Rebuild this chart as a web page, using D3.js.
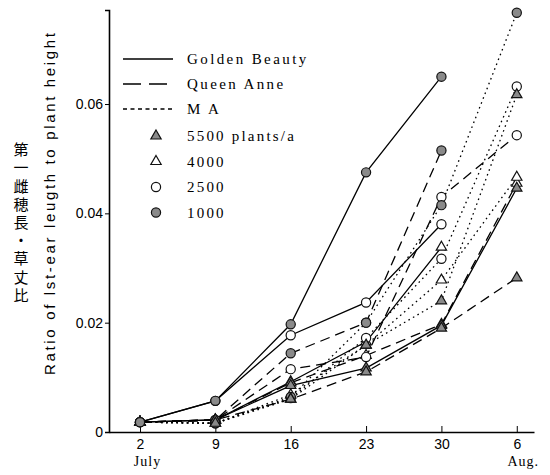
<!DOCTYPE html>
<html><head><meta charset="utf-8">
<script src="https://cdn.jsdelivr.net/npm/d3@7"></script>
<style>body{margin:0;background:#fff}</style>
</head><body>
<svg id="c" width="550" height="475"></svg>
<script>
// ---- data ----
const dateLabels = ["2","9","16","23","30","6"];
const days = [0,7,14,21,28,35];
const monthLabels = [{label:"July", day:0.7},{label:"Aug.", day:35.6}];
const yTicks = [0,0.02,0.04,0.06];
const varieties = ["Golden Beauty","Queen Anne","M A"];
const densities = ["5500","4000","2500","1000"];
const densityLegend = ["5500 plants/a","4000","2500","1000"];
const yTitle = "Ratio of lst-ear leugth to plant height";
const jpTitle = "第一雌穂長・草丈比";

const gb1000 = [0.0018,0.0057,0.0197,0.0475,0.0650,null];
const gb2500 = [0.0018,0.0057,0.0177,0.0237,0.0380,null];
const gb4000 = [0.0018,0.0022,0.0092,0.0165,0.0338,null];
const gb5500 = [0.0018,0.0022,0.0085,0.0117,0.0195,0.0446];
const qa1000 = [0.0018,0.0022,0.0144,0.0200,0.0515,null];
const qa2500 = [0.0018,0.0022,0.0115,0.0137,0.0430,0.0543];
const qa4000 = [0.0018,0.0022,0.0090,0.0140,0.0197,0.0455];
const qa5500 = [0.0018,0.0022,0.0060,0.0110,0.0190,0.0282];
const ma1000 = [0.0018,0.0016,0.0064,0.0200,0.0415,0.0767];
const ma2500 = [0.0018,0.0016,0.0062,0.0172,0.0317,0.0632];
const ma4000 = [0.0018,0.0016,0.0068,0.0159,0.0278,0.0466];
const ma5500 = [0.0018,0.0016,0.0060,0.0159,0.0240,0.0617];

const series = [
  {v:"Golden Beauty", d:"1000", vals:gb1000},
  {v:"Golden Beauty", d:"2500", vals:gb2500},
  {v:"Golden Beauty", d:"4000", vals:gb4000},
  {v:"Golden Beauty", d:"5500", vals:gb5500},
  {v:"Queen Anne", d:"1000", vals:qa1000},
  {v:"Queen Anne", d:"2500", vals:qa2500},
  {v:"Queen Anne", d:"4000", vals:qa4000},
  {v:"Queen Anne", d:"5500", vals:qa5500},
  {v:"M A", d:"1000", vals:ma1000},
  {v:"M A", d:"2500", vals:ma2500},
  {v:"M A", d:"4000", vals:ma4000},
  {v:"M A", d:"5500", vals:ma5500}
];

// ---- styles ----
const dash = {"Golden Beauty":null, "Queen Anne":"10,6", "M A":"1.6,3.6"};
const legendDash = {"Golden Beauty":null, "Queen Anne":"18,8", "M A":"4,3.5"};
const GRAY = "#8a8a8a";

const svg = d3.select("#c");
const x = d3.scaleLinear().domain([-2.88, 36.6]).range([109, 534]);
const y = d3.scaleLinear().domain([0, 0.0772]).range([432, 10]);

// axes
const yAxis = d3.axisLeft(y).tickValues(yTicks).tickSize(4).tickPadding(2)
  .tickFormat(d => d === 0 ? "0" : d3.format(".2f")(d));
const gy = svg.append("g").attr("transform","translate(109,0)").call(yAxis);
gy.select(".domain").attr("stroke-width",1.6);
gy.selectAll("text").attr("font-family","Liberation Sans, Arial, sans-serif").attr("font-size",14).attr("fill","#000");

const xAxis = d3.axisBottom(x).tickValues(days).tickSizeInner(-6).tickSizeOuter(0).tickPadding(7)
  .tickFormat((d,i) => dateLabels[i]);
const gx = svg.append("g").attr("transform","translate(0,432)").call(xAxis);
gx.select(".domain").attr("stroke-width",1.6);
gx.selectAll("text").attr("font-family","Liberation Sans, Arial, sans-serif").attr("font-size",14).attr("fill","#000");

svg.append("g").selectAll("text").data(monthLabels).join("text")
  .attr("x", d => x(d.day)).attr("y", 466).attr("text-anchor","middle")
  .attr("font-family","Liberation Serif, serif").attr("font-size",14).attr("letter-spacing",1)
  .text(d => d.label);

// y titles
svg.append("text").attr("transform","translate(55,204) rotate(-90)")
  .attr("text-anchor","middle").attr("font-family","Liberation Sans, Arial, sans-serif")
  .attr("font-size",15).attr("textLength",342).attr("lengthAdjust","spacing").text(yTitle);

svg.append("text").attr("x",21).attr("y",142)
  .style("writing-mode","vertical-rl").style("text-orientation","upright")
  .attr("letter-spacing",3.2)
  .attr("font-family","Noto Sans CJK JP, sans-serif").attr("font-size",15).text(jpTitle);

// lines
const line = d3.line().defined(d => d.val != null).x(d => x(d.day)).y(d => y(d.val));
svg.append("g").selectAll("path").data(series).join("path")
  .attr("d", s => line(s.vals.map((v,i) => ({day:days[i], val:v}))))
  .attr("fill","none").attr("stroke","#000").attr("stroke-width",1.3)
  .attr("stroke-dasharray", s => dash[s.v]);

// markers
function drawMarker(g, d, px, py) {
  if (d === "1000" || d === "2500") {
    g.append("circle").attr("cx",px).attr("cy",py).attr("r",4.6)
      .attr("fill", d === "1000" ? GRAY : "#fff").attr("stroke","#111").attr("stroke-width",1.2);
  } else {
    g.append("path").attr("transform",`translate(${px},${py})`)
      .attr("d", d3.symbol(d3.symbolTriangle, 46)())
      .attr("fill", d === "5500" ? GRAY : "#fff").attr("stroke","#111").attr("stroke-width",1.2);
  }
}
const pts = [];
series.forEach(s => s.vals.forEach((v,i) => { if (v != null) pts.push({d:s.d, i, v}); }));
const orderLater = {"4000":0,"2500":1,"1000":2,"5500":3};
const orderFirst = {"4000":0,"2500":1,"5500":2,"1000":3};
pts.sort((a,b) => (a.i===0?orderFirst[a.d]:orderLater[a.d]) - (b.i===0?orderFirst[b.d]:orderLater[b.d]));
const gm = svg.append("g");
pts.forEach(p => drawMarker(gm, p.d, x(days[p.i]), y(p.v)));

// legend
const lg = svg.append("g");
varieties.forEach((v,i) => {
  const yy = 59 + i*25;
  lg.append("line").attr("x1",123).attr("x2",173).attr("y1",yy).attr("y2",yy)
    .attr("stroke","#000").attr("stroke-width",1.3).attr("stroke-dasharray",legendDash[v]);
  lg.append("text").attr("x",187).attr("y",yy+5).attr("font-family","Liberation Serif, serif")
    .attr("font-size",15).attr("letter-spacing",2.4).text(v);
});
densities.forEach((d,i) => {
  const yy = 136 + i*25.5;
  drawMarker(lg, d, 156, yy);
  lg.append("text").attr("x",187).attr("y",yy+5).attr("font-family","Liberation Serif, serif")
    .attr("font-size",15).attr("letter-spacing",2.2).text(densityLegend[i]);
});
</script>
</body></html>
